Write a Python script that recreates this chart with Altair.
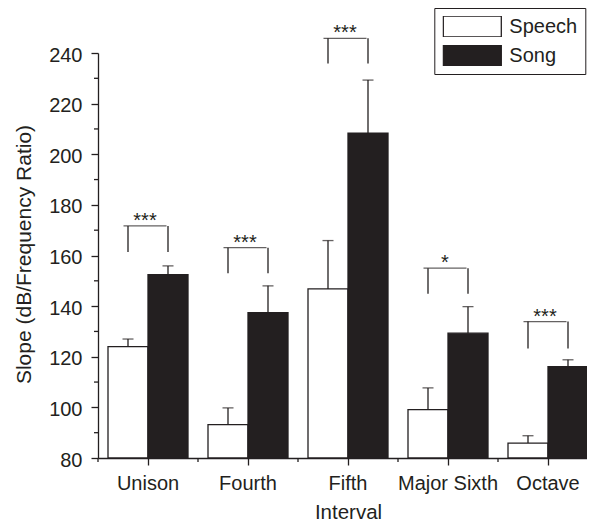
import altair as alt
import pandas as pd

intervals = ["Unison", "Fourth", "Fifth", "Major Sixth", "Octave"]
groups = ["Speech", "Song"]
speech_mean = [124.0, 93.2, 146.8, 99.1, 85.9]
speech_err = [3.0, 6.6, 19.1, 8.6, 2.9]
song_mean = [152.4, 137.4, 208.3, 129.3, 116.1]
song_err = [3.5, 10.6, 21.0, 10.5, 2.7]
bracket_top = [171.7, 163.1, 245.8, 155.0, 133.9]
bracket_low = [161.4, 153.0, 235.9, 144.9, 123.3]
stars = ["***", "***", "***", "*", "***"]
y_major = [80, 100, 120, 140, 160, 180, 200, 220, 240]
y_minor = [90, 110, 130, 150, 170, 190, 210, 230]

INK = "#231f20"
FONT = "Liberation Sans"

rows = []
for i, iv in enumerate(intervals):
    rows.append(dict(interval=iv, group="Speech", mean=speech_mean[i],
                     top=speech_mean[i] + speech_err[i], base=80))
    rows.append(dict(interval=iv, group="Song", mean=song_mean[i],
                     top=song_mean[i] + song_err[i], base=80))
bars_df = pd.DataFrame(rows)

legs = []
for i, iv in enumerate(intervals):
    for g in groups:
        legs.append(dict(interval=iv, group=g, top=bracket_top[i], low=bracket_low[i]))
legs_df = pd.DataFrame(legs)
sig_df = pd.DataFrame(dict(interval=intervals, top=bracket_top, stars=stars))
ymin_df = pd.DataFrame(dict(v=y_minor))
xmin_df = pd.DataFrame(dict(interval=intervals))

xscale = alt.Scale(domain=intervals, range=[0, 500], paddingInner=0.2, paddingOuter=0.1)
yscale = alt.Scale(domain=[80, 240], nice=False, zero=False)
oscale = alt.Scale(domain=groups, paddingInner=0, paddingOuter=0)

xaxis = alt.Axis(title="Interval", labelFontSize=20, titleFontSize=20.5, titleFontWeight="normal",
                 labelAngle=0, tickSize=7, labelPadding=8, titleBaseline="alphabetic", titleY=60,
                 domainColor=INK, tickColor=INK, labelColor=INK, titleColor=INK,
                 domainWidth=1.3, tickWidth=1.3, labelFont=FONT, titleFont=FONT, grid=False)
yaxis = alt.Axis(title="Slope (dB/Frequency Ratio)", values=y_major, labelFontSize=20,
                 titleFontSize=21, titleFontWeight="normal", tickSize=7, labelPadding=9,
                 labelOffset=2, titleBaseline="alphabetic", titleX=-68, titleY=201,
                 domainColor=INK, tickColor=INK, labelColor=INK, titleColor=INK,
                 domainWidth=1.3, tickWidth=1.3, labelFont=FONT, titleFont=FONT, grid=False)

X = alt.X("interval:N", sort=intervals, scale=xscale, axis=xaxis)
Xn = alt.X("interval:N", sort=intervals, title="Interval")
XO = alt.XOffset("group:N", scale=oscale, sort=groups)

bars = alt.Chart(bars_df).mark_bar(stroke=INK, strokeWidth=1.3).encode(
    x=X,
    xOffset=XO,
    y=alt.Y("mean:Q", scale=yscale, axis=yaxis),
    y2="base:Q",
    fill=alt.Fill("group:N", scale=alt.Scale(domain=groups, range=["#ffffff", INK]),
                  legend=alt.Legend(orient="none", legendX=336.3, legendY=-45, title=None,
                                    symbolType="M-1,-0.362L1,-0.362L1,0.362L-1,0.362Z",
                                    symbolSize=3364, symbolStrokeColor=INK, symbolStrokeWidth=1.3,
                                    clipHeight=21, rowPadding=8, labelFontSize=20, labelOffset=7,
                                    labelFont=FONT, labelColor=INK, padding=8, strokeColor=INK)),
)

YT = "Slope (dB/Frequency Ratio)"
err = alt.Chart(bars_df).mark_rule(color=INK, strokeWidth=1.3).encode(
    x=Xn, xOffset=XO, y=alt.Y("mean:Q", title=YT), y2="top:Q")
caps = alt.Chart(bars_df).mark_tick(color=INK, size=11, thickness=1.3).encode(
    x=Xn, xOffset=XO, y=alt.Y("top:Q", title=YT))

left_leg = alt.Chart(legs_df).transform_filter(alt.datum.group == "Speech").mark_rule(
    color=INK, strokeWidth=1.3, xOffset=-4).encode(
    x=Xn, xOffset=XO, y=alt.Y("low:Q", title=YT), y2="top:Q")
right_leg = alt.Chart(legs_df).transform_filter(alt.datum.group == "Song").mark_rule(
    color=INK, strokeWidth=1.3, xOffset=-1.5).encode(
    x=Xn, xOffset=XO, y=alt.Y("low:Q", title=YT), y2="top:Q")
bracket = alt.Chart(sig_df).mark_tick(color=INK, size=43, thickness=1.3, xOffset=-3).encode(
    x=Xn, y=alt.Y("top:Q", title=YT))
star_text = alt.Chart(sig_df).mark_text(fontSize=20, font=FONT, color=INK, baseline="alphabetic",
                                        dy=1, xOffset=-3).encode(
    x=Xn, y=alt.Y("top:Q", title=YT), text="stars:N")

y_minor_ticks = alt.Chart(ymin_df).mark_rule(color=INK, strokeWidth=1.3).encode(
    y=alt.Y("v:Q", title=YT), x=alt.value(-4), x2=alt.value(0))
x_minor_ticks = alt.Chart(xmin_df).mark_rule(color=INK, strokeWidth=1.3, xOffset=-10).encode(
    x=alt.X("interval:N", sort=intervals, title="Interval", bandPosition=0),
    y=alt.value(405), y2=alt.value(409))

chart = alt.layer(bars, err, caps, left_leg, right_leg, bracket, star_text,
                  y_minor_ticks, x_minor_ticks).properties(
    width=489, height=405,
    autosize=alt.AutoSizeParams(type="none"),
    padding={"left": 90, "top": 45, "right": 0, "bottom": 65},
).configure(font=FONT).configure_view(stroke="transparent", strokeWidth=0).configure_axis(grid=False)

chart.save("out.html", embed_options={"renderer": "svg", "actions": False})
